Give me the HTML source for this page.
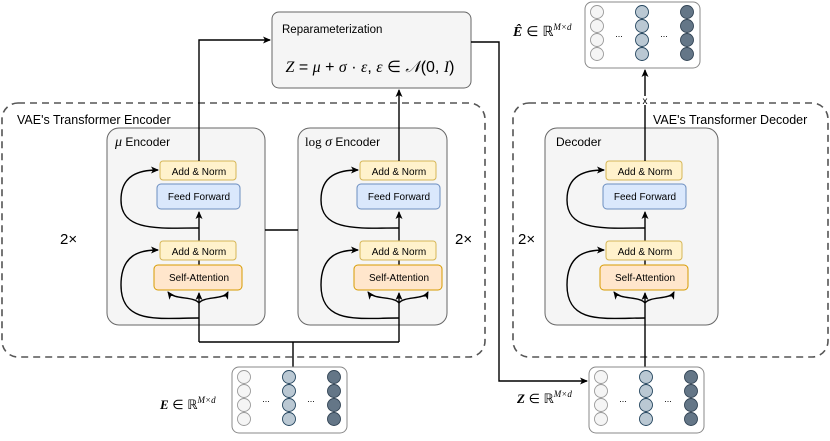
<!DOCTYPE html>
<html><head><meta charset="utf-8"><style>
body{margin:0;background:#fff}
svg text{font-family:"Liberation Sans",sans-serif}
.m{font-family:"Liberation Serif",serif;font-style:italic}
</style></head><body>
<svg width="830" height="436" viewBox="0 0 830 436" xmlns="http://www.w3.org/2000/svg">
<defs>
<marker id="a" markerWidth="8" markerHeight="8" refX="7" refY="4" orient="auto" markerUnits="userSpaceOnUse"><path d="M0,0.5 L8,4 L0,7.5 L2,4z" fill="#000"/></marker>
<g id="blk">
 <path d="M0,342 V293" stroke="#000" stroke-width="1.4" fill="none" marker-end="url(#a)"/>
 <path d="M0,303 C-5,296 -25,300 -31,292" stroke="#000" stroke-width="1.4" fill="none" marker-end="url(#a)"/>
 <path d="M0,303 C5,296 25,300 29,292" stroke="#000" stroke-width="1.4" fill="none" marker-end="url(#a)"/>
 <path d="M0,318 C-40,318 -78,325 -78,285 C-78,255 -60,250 -41,250" stroke="#000" stroke-width="1.4" fill="none" marker-end="url(#a)"/>
 <path d="M0,265 V212" stroke="#000" stroke-width="1.4" fill="none" marker-end="url(#a)"/>
 <path d="M0,228 C-40,228 -78,232 -78,200 C-78,175 -60,170 -41,170" stroke="#000" stroke-width="1.4" fill="none" marker-end="url(#a)"/>
 <rect x="-39" y="161" width="76" height="19" rx="3" fill="#fff2cc" stroke="#d6b656"/>
 <text x="0" y="175" font-size="10" text-anchor="middle">Add &amp; Norm</text>
 <rect x="-42" y="184" width="83" height="25" rx="4" fill="#dae8fc" stroke="#6c8ebf"/>
 <text x="0" y="200" font-size="10" text-anchor="middle">Feed Forward</text>
 <rect x="-39" y="241" width="76" height="19" rx="3" fill="#fff2cc" stroke="#d6b656"/>
 <text x="0" y="255" font-size="10" text-anchor="middle">Add &amp; Norm</text>
 <rect x="-45" y="265" width="88" height="25" rx="4" fill="#ffe6cc" stroke="#d79b00"/>
 <text x="0" y="281" font-size="10" text-anchor="middle">Self-Attention</text>
</g>
<g id="mat">
 <rect x="0" y="0" width="115" height="66" rx="7" fill="#fff" stroke="#888"/>
 <g stroke-width="0.9">
 <circle cx="12" cy="10" r="6.5" fill="#f5f5f5" stroke="#999"/><circle cx="12" cy="24" r="6.5" fill="#f5f5f5" stroke="#999"/><circle cx="12" cy="38" r="6.5" fill="#f5f5f5" stroke="#999"/><circle cx="12" cy="52" r="6.5" fill="#f5f5f5" stroke="#999"/>
 <circle cx="57" cy="10" r="6.5" fill="#bac8d3" stroke="#23445d"/><circle cx="57" cy="24" r="6.5" fill="#bac8d3" stroke="#23445d"/><circle cx="57" cy="38" r="6.5" fill="#bac8d3" stroke="#23445d"/><circle cx="57" cy="52" r="6.5" fill="#bac8d3" stroke="#23445d"/>
 <circle cx="102" cy="10" r="6.5" fill="#647687" stroke="#314354"/><circle cx="102" cy="24" r="6.5" fill="#647687" stroke="#314354"/><circle cx="102" cy="38" r="6.5" fill="#647687" stroke="#314354"/><circle cx="102" cy="52" r="6.5" fill="#647687" stroke="#314354"/>
 </g>
 <text x="34" y="35" font-size="9" text-anchor="middle">...</text>
 <text x="79" y="35" font-size="9" text-anchor="middle">...</text>
</g>
</defs>
<rect x="2" y="103" width="483" height="254" rx="16" fill="none" stroke="#555" stroke-width="1.6" stroke-dasharray="7,5"/>
<text x="17" y="124" font-size="12.5">VAE's Transformer Encoder</text>
<rect x="513" y="103" width="315" height="254" rx="16" fill="none" stroke="#555" stroke-width="1.6" stroke-dasharray="7,5"/>
<text x="653" y="124" font-size="12.5">VAE's Transformer Decoder</text>
<rect x="107" y="128" width="158" height="197" rx="12" fill="#f5f5f5" stroke="#666"/>
<text x="115" y="146" font-size="12"><tspan class="m" font-size="14">μ</tspan>  Encoder</text>
<rect x="298" y="128" width="149" height="197" rx="12" fill="#f5f5f5" stroke="#666"/>
<text x="305" y="146" font-size="12"><tspan font-family="Liberation Serif" font-size="13">log</tspan><tspan class="m" font-size="14"> σ</tspan> Encoder</text>
<rect x="545" y="128" width="173" height="197" rx="12" fill="#f5f5f5" stroke="#666"/>
<text x="556" y="146" font-size="12">Decoder</text>
<line x1="265" y1="230" x2="298" y2="230" stroke="#000" stroke-width="1.4"/>
<text x="60" y="244" font-size="15" font-family="Liberation Serif">2×</text>
<text x="455" y="244" font-size="15" font-family="Liberation Serif">2×</text>
<text x="518" y="244" font-size="15" font-family="Liberation Serif">2×</text>
<rect x="272" y="12" width="199" height="76" rx="7" fill="#f5f5f5" stroke="#666"/>
<text x="282" y="33" font-size="11.5">Reparameterization</text>
<text x="370" y="72" font-size="16" text-anchor="middle" font-family="Liberation Serif"><tspan class="m">Z</tspan> = <tspan class="m">μ</tspan> + <tspan class="m">σ</tspan> · <tspan class="m">ε</tspan>, <tspan class="m">ε</tspan> ∈ <tspan class="m">𝒩</tspan>(0, <tspan class="m">I</tspan>)</text>
<use href="#blk" x="199" y="0"/>
<use href="#blk" x="399" y="0"/>
<use href="#blk" x="645" y="0"/>
<path d="M199,161 V40 H270" stroke="#000" stroke-width="1.4" fill="none" marker-end="url(#a)"/>
<path d="M399,161 V90" stroke="#000" stroke-width="1.4" fill="none" marker-end="url(#a)"/>
<path d="M199,342 H399" stroke="#000" stroke-width="1.4" fill="none"/>
<path d="M293,342 V368" stroke="#000" stroke-width="1.4" fill="none"/>
<path d="M471,42 H499 V381 H587" stroke="#000" stroke-width="1.4" fill="none" marker-end="url(#a)"/>
<path d="M645,342 V367" stroke="#000" stroke-width="1.4" fill="none"/>
<path d="M645,161 V70" stroke="#000" stroke-width="1.4" fill="none" marker-end="url(#a)"/>
<rect x="640" y="96" width="10" height="9" fill="#fff"/>
<text x="645" y="104" font-size="10" text-anchor="middle">x</text>
<use href="#mat" x="232" y="367"/>
<use href="#mat" x="589" y="367"/>
<use href="#mat" x="585" y="2"/>
<text x="160" y="409" font-size="13" font-family="Liberation Serif"><tspan class="m" font-weight="bold">E</tspan> ∈ ℝ<tspan font-size="9" dy="-6" class="m">M×d</tspan></text>
<text x="517" y="403" font-size="13" font-family="Liberation Serif"><tspan class="m" font-weight="bold">Z</tspan> ∈ ℝ<tspan font-size="9" dy="-6" class="m">M×d</tspan></text>
<text x="513" y="36" font-size="14" font-family="Liberation Serif"><tspan class="m" font-weight="bold">Ê</tspan> ∈ ℝ<tspan font-size="9" dy="-6" class="m">M×d</tspan></text>
</svg>
</body></html>
